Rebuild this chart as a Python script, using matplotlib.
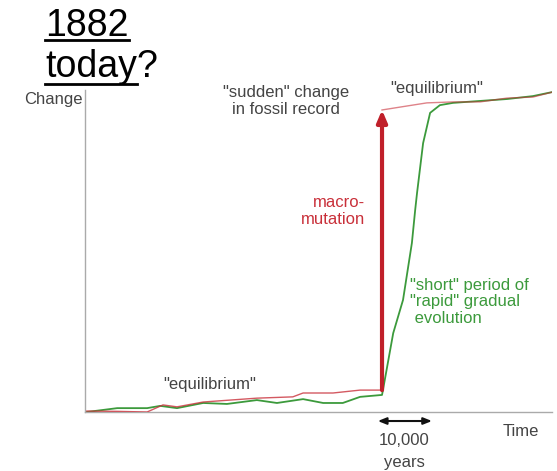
import matplotlib.pyplot as plt
from matplotlib.lines import Line2D

plt.rcParams['font.family'] = ['Liberation Sans', 'DejaVu Sans']

# Red curve: slow drift, jump, slow drift
red_low_x = [0.4, 6.9, 13.3, 16.7, 19.7, 25.3, 36.8, 44.5, 46.7, 53.1, 58.9, 63.6]
red_low_y = [0.3, 0.2, 0.0, 2.2, 1.6, 3.1, 4.3, 4.7, 5.9, 5.9, 6.8, 6.8]
red_high_x = [63.6, 67.5, 73.2, 78.8, 84.6, 90.4, 95.9, 100.2]
red_high_y = [93.8, 94.7, 96.0, 96.3, 96.3, 97.5, 97.8, 99.4]

# Green curve: drift, short steep gradual rise, drift
green_x = [0.4, 6.9, 13.3, 16.1, 19.7, 25.3, 30.4, 36.8, 41.1, 46.7, 51.0, 55.2, 58.9, 63.6,
           63.8, 66.0, 68.1, 70.0, 70.7, 71.1, 72.4, 73.9, 76.0, 78.8, 84.6, 90.4, 95.9, 100.2]
green_y = [0.0, 1.2, 1.2, 1.9, 1.2, 2.8, 2.5, 3.7, 2.8, 4.0, 2.8, 2.8, 4.7, 5.3,
           6.8, 24.5, 34.8, 52.5, 62.7, 68.0, 83.5, 92.9, 95.3, 96.0, 96.6, 97.2, 98.1, 99.4]

jump_x = 63.6
span = (62.7, 74.3)

RED = '#c9303a'
GREEN = '#3c9a3c'
GREY = '#444444'

fig = plt.figure(figsize=(5.57, 4.71), dpi=100)
W, H = 557, 471
ax = fig.add_axes([85 / W, 1 - 412 / H, 467 / W, 322 / H])
ax.set_xlim(0, 100)
ax.set_ylim(0, 100)
ax.set_xticks([])
ax.set_yticks([])
for s in ['top', 'right']:
    ax.spines[s].set_visible(False)
for s in ['left', 'bottom']:
    ax.spines[s].set_color('#aaaaaa')
    ax.spines[s].set_linewidth(1.0)

ax.plot(green_x, green_y, color=GREEN, lw=1.3, zorder=2)
ax.plot(red_low_x, red_low_y, color=RED, lw=1.0, alpha=0.8, zorder=3)
ax.plot(red_high_x, red_high_y, color=RED, lw=1.0, alpha=0.6, zorder=3)
ax.annotate('', xy=(jump_x, red_high_y[0]), xytext=(jump_x, red_low_y[-1]),
            arrowprops=dict(arrowstyle='-|>,head_width=0.3,head_length=0.7',
                            color='#c0202a', lw=3, shrinkA=0, shrinkB=0), zorder=4)

# 10,000 years span
ax.annotate('', xy=(span[0], -2.8), xytext=(span[1], -2.8), xycoords='data',
            arrowprops=dict(arrowstyle='<|-|>,head_width=0.2,head_length=0.5',
                            color='#111111', lw=1.5, shrinkA=0, shrinkB=0),
            annotation_clip=False)

fs = 12
ax.text(68.3, -9.0, '10,000', ha='center', va='center', fontsize=fs, color=GREY)
ax.text(68.3, -15.8, 'years', ha='center', va='center', fontsize=fs, color=GREY)
ax.text(89.5, -6.2, 'Time', ha='left', va='center', fontsize=fs, color=GREY)
ax.text(-0.5, 96.9, 'Change', ha='right', va='center', fontsize=fs, color=GREY)
ax.text(43.0, 96.6, '"sudden" change\nin fossil record', ha='center', va='center',
        fontsize=fs, color=GREY, linespacing=1.1)
ax.text(75.4, 100.6, '"equilibrium"', ha='center', va='center', fontsize=fs, color=GREY)
ax.text(26.8, 8.4, '"equilibrium"', ha='center', va='center', fontsize=fs, color=GREY)
ax.text(60.0, 62.4, 'macro-\nmutation', ha='right', va='center', fontsize=fs,
        color=RED, linespacing=1.15)
ax.text(69.6, 34.2, '"short" period of\n"rapid" gradual\n evolution', ha='left',
        va='center', fontsize=fs, color=GREEN, linespacing=1.1)

# Title with underlines
t1 = fig.text(45 / W, 1 - 36 / H, '1882', fontsize=27, color='black', va='baseline')
t2 = fig.text(45 / W, 1 - 77 / H, 'today', fontsize=27, color='black', va='baseline')
fig.canvas.draw()
r = fig.canvas.get_renderer()
b1 = t1.get_window_extent(r)
b2 = t2.get_window_extent(r)
fig.text(b2.x1 / W, 1 - 77 / H, '?', fontsize=27, color='black', va='baseline')
for b, yline in [(b1, 40), (b2, 84)]:
    fig.add_artist(Line2D([b.x0 / W, b.x1 / W], [1 - yline / H, 1 - yline / H],
                          color='black', lw=2))

fig.savefig('out.png', dpi=100)
